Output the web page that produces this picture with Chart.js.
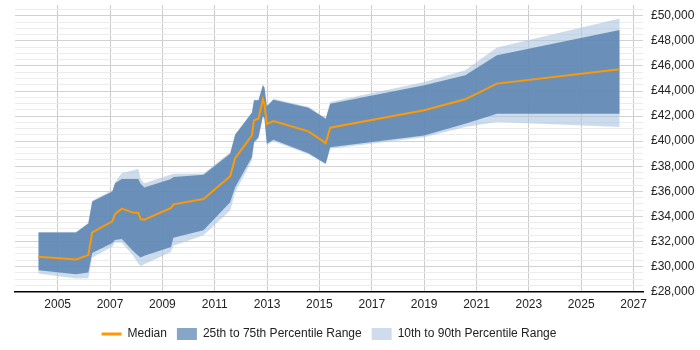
<!DOCTYPE html>
<html>
<head>
<meta charset="utf-8">
<script src="https://cdn.jsdelivr.net/npm/chart.js@4.4.1/dist/chart.umd.min.js"></script>
<style>
  html, body { margin: 0; padding: 0; background: #fff; }
  #wrap { width: 700px; height: 350px; position: relative; }
</style>
</head>
<body>
<div id="wrap"><canvas id="c" width="700" height="350"></canvas></div>
<script>
const years = [2004.26, 2005.70, 2006.17, 2006.32, 2007.09, 2007.19, 2007.45, 2007.87, 2008.08, 2008.17,
  2008.31, 2009.33, 2009.42, 2010.57, 2011.59, 2011.78, 2012.42, 2012.50, 2012.67, 2012.84,
  2012.90, 2012.99, 2013.24, 2014.58, 2015.24, 2015.41, 2019.00, 2020.57, 2021.78, 2026.47];

const median = [30780, 30560, 30910, 32720, 33600, 34190, 34620, 34300, 34270, 33790,
  33740, 34670, 34960, 35390, 37200, 38640, 40460, 41660, 41790, 43340,
  42940, 41360, 41600, 40780, 39840, 41070, 42460, 43340, 44590, 45740];

const p75 = [32720, 32720, 33440, 35180, 35980, 36650, 36990, 36990, 36990, 36600,
  36300, 36990, 37150, 37330, 39000, 40510, 42270, 43260, 43260, 44460,
  44270, 42780, 43310, 42670, 41790, 42990, 44460, 45260, 46860, 48860];

const p25 = [29710, 29390, 29520, 31070, 31870, 32110, 32200, 31250, 30850, 30720,
  30860, 31550, 32300, 32900, 35120, 36320, 38720, 39920, 40320, 42000,
  41800, 39800, 40110, 39040, 38190, 39520, 40460, 41390, 42190, 42190];

const p90 = [32750, 32750, 33500, 35250, 36100, 36700, 37450, 37660, 37790, 36990,
  36640, 37340, 37400, 37420, 39120, 40560, 42320, 43300, 43300, 44500,
  44300, 42820, 43380, 42750, 41850, 43130, 44720, 45660, 47470, 49790];

const p10 = [29440, 29040, 29070, 30720, 31580, 31920, 31900, 30900, 30250, 30030,
  30190, 31150, 31660, 32500, 34460, 35920, 38450, 39800, 40200, 41900,
  41700, 39700, 40000, 38950, 38150, 39400, 40320, 41120, 41520, 41120];

const xTickYears = [2005, 2007, 2009, 2011, 2013, 2015, 2017, 2019, 2021, 2023, 2025, 2027];
const yGridValues = [28000, 28500, 29000, 29500, 30000, 30500, 31000, 31500, 32000, 32500,
  33000, 33500, 34000, 34500, 35000, 35500, 36000, 36500, 37000, 37500, 38000, 38500,
  39000, 39500, 40000, 40500, 41000, 41500, 42000, 42500, 43000, 43500, 44000, 44500,
  45000, 45500, 46000, 46500, 47000, 47500, 48000, 48500, 49000, 49500, 50000, 50500];
const yLabelStep = 2000;

const seriesNames = ['Median', '25th to 75th Percentile Range', '10th to 90th Percentile Range'];

const pts = arr => arr.map((v, i) => ({ x: years[i], y: v }));

const COL_MED = '#ff9900';
const COL_DARK = 'rgba(83,126,174,0.8)';
const COL_LIGHT = 'rgba(172,197,223,0.6)';

Chart.defaults.font.family = '"Liberation Sans", Arial, sans-serif';
Chart.defaults.font.size = 12;
Chart.defaults.color = '#222';

const fmt = v => '£' + Math.round(v).toString().replace(/\B(?=(\d{3})+(?!\d))/g, ',');

new Chart(document.getElementById('c'), {
  type: 'line',
  data: {
    datasets: [
      { label: seriesNames[0], data: pts(median), borderColor: COL_MED, borderWidth: 2,
        pointRadius: 0, fill: false, tension: 0 },
      { label: seriesNames[1], data: pts(p75), borderWidth: 0, borderColor: 'transparent',
        backgroundColor: COL_DARK, pointRadius: 0, fill: '+1', tension: 0 },
      { label: 'p25', data: pts(p25), borderWidth: 0, borderColor: 'transparent',
        pointRadius: 0, fill: false, tension: 0 },
      { label: seriesNames[2], data: pts(p90), borderWidth: 0, borderColor: 'transparent',
        backgroundColor: COL_LIGHT, pointRadius: 0, fill: '+1', tension: 0 },
      { label: 'p10', data: pts(p10), borderWidth: 0, borderColor: 'transparent',
        pointRadius: 0, fill: false, tension: 0 }
    ]
  },
  options: {
    responsive: false,
    animation: false,
    layout: { padding: { left: 15, right: 0, top: 5, bottom: 0 } },
    plugins: {
      tooltip: { enabled: false },
      legend: {
        position: 'bottom',
        fullSize: false,
        labels: {
          usePointStyle: true,
          pointStyleWidth: 20,
          boxHeight: 14,
          padding: 10,
          color: '#222',
          generateLabels: () => [
            { text: seriesNames[0], pointStyle: 'line', strokeStyle: COL_MED, fillStyle: COL_MED, lineWidth: 3, datasetIndex: 0, fontColor: '#222' },
            { text: seriesNames[1], pointStyle: 'rect', strokeStyle: '#87a5c6', fillStyle: '#87a5c6', lineWidth: 0, datasetIndex: 1, fontColor: '#222' },
            { text: seriesNames[2], pointStyle: 'rect', strokeStyle: '#cfdcec', fillStyle: '#cfdcec', lineWidth: 0, datasetIndex: 3, fontColor: '#222' }
          ]
        }
      }
    },
    scales: {
      x: {
        type: 'linear',
        min: 2003.37,
        max: 2027.36,
        afterBuildTicks: s => { s.ticks = xTickYears.map(v => ({ value: v })); },
        ticks: { callback: v => String(v), padding: 6, maxRotation: 0, autoSkip: false, color: '#222' },
        grid: { color: '#cccccc', drawTicks: false },
        border: { color: '#000', width: 1.5 }
      },
      y: {
        position: 'right',
        min: 28000,
        max: 50860,
        afterBuildTicks: s => { s.ticks = yGridValues.map(v => ({ value: v })); },
        afterFit: s => { s.width = 57; s.paddingTop = 0; s.paddingBottom = 0; },
        ticks: {
          autoSkip: false,
          padding: 8,
          color: '#222',
          callback: v => (v % yLabelStep === 0 ? fmt(v) : '')
        },
        grid: {
          color: c => (c.tick && c.tick.value % yLabelStep === 0 ? '#d2d2d2' : '#ececec'),
          drawTicks: false
        },
        border: { display: false }
      }
    }
  }
});
</script>
</body>
</html>
